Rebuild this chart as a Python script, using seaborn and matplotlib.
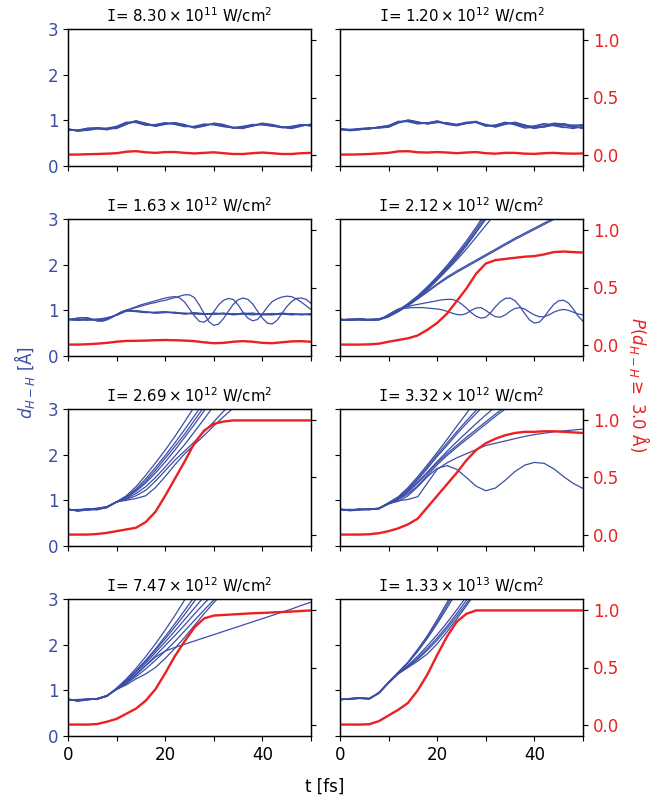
import numpy as np
import pandas as pd
import matplotlib
matplotlib.use("Agg")
import matplotlib.pyplot as plt
import seaborn as sns

# ---------------- data ----------------
T_COARSE = np.arange(0, 51, 2)      # 2 fs grid (26 points)
T_FINE = np.arange(0, 51, 1)        # 1 fs grid (51 points)

TITLES = [
    "$\\mathtt{I}$= $8.30\\times10^{11}$ W/cm$^2$",
    "$\\mathtt{I}$= $1.20\\times10^{12}$ W/cm$^2$",
    "$\\mathtt{I}$= $1.63\\times10^{12}$ W/cm$^2$",
    "$\\mathtt{I}$= $2.12\\times10^{12}$ W/cm$^2$",
    "$\\mathtt{I}$= $2.69\\times10^{12}$ W/cm$^2$",
    "$\\mathtt{I}$= $3.32\\times10^{12}$ W/cm$^2$",
    "$\\mathtt{I}$= $7.47\\times10^{12}$ W/cm$^2$",
    "$\\mathtt{I}$= $1.33\\times10^{13}$ W/cm$^2$",
]

# panel 1 (8.30e11)
P1_A = [0.80,0.77,0.80,0.83,0.81,0.84,0.93,0.98,0.92,0.88,0.93,0.94,0.89,0.85,0.89,0.92,0.89,0.84,0.84,0.88,0.92,0.90,0.85,0.84,0.89,0.90]
P1_B = [0.79,0.79,0.82,0.82,0.80,0.86,0.95,0.96,0.90,0.90,0.94,0.92,0.87,0.86,0.91,0.91,0.87,0.83,0.86,0.90,0.91,0.88,0.84,0.86,0.90,0.88]
P1_C = [0.81,0.76,0.79,0.84,0.82,0.83,0.92,0.97,0.93,0.89,0.92,0.93,0.90,0.84,0.88,0.93,0.90,0.85,0.83,0.87,0.93,0.91,0.86,0.83,0.88,0.91]
P1_D = [0.80,0.78,0.81,0.82,0.79,0.85,0.94,0.99,0.91,0.87,0.92,0.95,0.88,0.85,0.90,0.92,0.88,0.84,0.85,0.89,0.92,0.89,0.85,0.85,0.89,0.89]
P1_E = [0.78,0.78,0.83,0.84,0.81,0.82,0.91,0.99,0.94,0.87,0.91,0.95,0.91,0.83,0.87,0.94,0.91,0.83,0.82,0.89,0.94,0.90,0.84,0.82,0.87,0.92]
P1_F = [0.82,0.77,0.78,0.81,0.83,0.87,0.96,0.95,0.89,0.91,0.95,0.91,0.86,0.87,0.92,0.90,0.86,0.84,0.87,0.91,0.90,0.87,0.85,0.87,0.91,0.87]
RED_1 = [0.0,0.0,0.003,0.005,0.008,0.012,0.025,0.03,0.02,0.015,0.022,0.022,0.015,0.01,0.015,0.02,0.012,0.005,0.005,0.012,0.018,0.012,0.005,0.005,0.012,0.015]

# panel 2 (1.20e12)
P2_A = [0.81,0.78,0.80,0.82,0.84,0.86,0.95,1.00,0.95,0.93,0.97,0.93,0.89,0.95,0.98,0.89,0.87,0.94,0.93,0.87,0.83,0.88,0.93,0.90,0.84,0.84]
P2_B = [0.80,0.80,0.82,0.81,0.85,0.87,0.97,0.99,0.94,0.94,0.98,0.91,0.88,0.93,0.96,0.91,0.86,0.91,0.95,0.89,0.86,0.85,0.90,0.93,0.88,0.82]
P2_C = [0.82,0.77,0.79,0.83,0.83,0.85,0.94,1.00,0.96,0.92,0.96,0.94,0.90,0.94,0.97,0.88,0.89,0.95,0.90,0.83,0.85,0.92,0.91,0.85,0.82,0.88]
P2_D = [0.81,0.79,0.81,0.82,0.86,0.88,0.96,0.98,0.93,0.95,0.97,0.92,0.91,0.96,0.95,0.87,0.90,0.96,0.91,0.85,0.88,0.93,0.88,0.84,0.87,0.91]
P2_E = [0.79,0.78,0.82,0.84,0.84,0.85,0.95,1.01,0.97,0.92,0.95,0.95,0.91,0.93,0.96,0.90,0.88,0.93,0.94,0.88,0.82,0.86,0.94,0.92,0.86,0.83]
P2_F = [0.82,0.80,0.80,0.81,0.85,0.89,0.98,0.97,0.92,0.94,0.99,0.93,0.89,0.94,0.97,0.90,0.85,0.92,0.96,0.90,0.84,0.87,0.89,0.88,0.90,0.89]
RED_2 = [0.0,0.0,0.002,0.005,0.01,0.015,0.028,0.03,0.02,0.018,0.022,0.018,0.012,0.018,0.022,0.012,0.008,0.015,0.015,0.008,0.006,0.012,0.015,0.01,0.008,0.01]

# panel 3 (1.63e12)
P3_A = [0.80,0.79,0.81,0.79,0.82,0.90,0.99,0.98,0.96,0.95,0.96,0.95,0.93,0.93,0.92,0.93,0.93,0.92,0.93,0.92,0.91,0.92,0.93,0.91,0.91,0.92]
P3_B = [0.79,0.83,0.84,0.77,0.80,0.91,1.00,0.97,0.95,0.96,0.97,0.94,0.94,0.92,0.91,0.94,0.92,0.93,0.92,0.90,0.92,0.93,0.92,0.90,0.92,0.91]
P3_C = [0.81,0.80,0.78,0.80,0.84,0.89,0.98,0.99,0.97,0.94,0.95,0.96,0.92,0.94,0.93,0.92,0.94,0.91,0.94,0.93,0.90,0.91,0.94,0.92,0.90,0.93]
P3_D = [0.80,0.78,0.80,0.81,0.81,0.90,1.01,0.99,0.96,0.94,0.96,0.94,0.92,0.95,0.92,0.91,0.93,0.90,0.92,0.94,0.91,0.90,0.92,0.93,0.91,0.90]
P3_X = [0.80,0.79,0.79,0.80,0.81,0.79,0.77,0.76,0.79,0.84,
        0.90,0.96,1.00,1.04,1.08,1.12,1.15,1.18,1.21,1.24,1.27,1.29,1.30,1.27,1.18,1.03,0.88,0.76,0.74,0.82,
        0.97,1.12,1.22,1.26,1.24,1.12,0.96,0.83,0.77,0.80,0.92,1.07,1.19,1.25,1.29,1.31,1.30,1.25,1.18,1.10,1.02]
P3_Y = [0.80,0.81,0.83,0.84,0.83,0.80,0.78,0.77,0.80,0.85,
        0.91,0.97,1.00,1.03,1.06,1.09,1.12,1.15,1.17,1.20,1.22,1.25,1.28,1.31,1.34,1.34,1.28,1.12,0.93,0.75,
        0.67,0.70,0.82,0.98,1.13,1.23,1.27,1.24,1.14,0.98,0.83,0.72,0.70,0.78,0.93,1.08,1.19,1.26,1.27,1.24,1.15]
RED_3 = [0.0,0.0,0.003,0.008,0.015,0.025,0.032,0.033,0.035,0.038,0.04,0.038,0.035,0.03,0.02,0.012,0.015,0.025,0.03,0.025,0.015,0.012,0.02,0.028,0.03,0.024]

# panel 4 (2.12e12)
P4_A1 = [0.80,0.79,0.81,0.79,0.80,0.88,1.00,1.15,1.32,1.52,1.74,1.98,2.24,2.52,2.82,3.14]
P4_A2 = [0.79,0.80,0.80,0.78,0.81,0.87,0.99,1.13,1.29,1.48,1.69,1.92,2.17,2.44,2.72,3.02,3.30]
P4_A3 = [0.81,0.78,0.79,0.80,0.80,0.88,1.00,1.14,1.30,1.50,1.72,1.95,2.20,2.47,2.77,3.08]
P4_A4 = [0.80,0.80,0.82,0.79,0.79,0.86,0.98,1.12,1.27,1.45,1.66,1.88,2.10,2.34,2.60,2.86,3.12]
P4_A5 = [0.80,0.78,0.80,0.80,0.81,0.87,0.99,1.13,1.28,1.47,1.68,1.90,2.14,2.41,2.70,3.00,3.30]
P4_B1 = [0.80,0.79,0.80,0.79,0.80,0.87,0.98,1.11,1.26,1.42,1.58,1.73,1.86,1.98,2.10,2.22,2.34,2.46,2.58,2.69,2.80,2.91,3.02]
P4_B2 = [0.79,0.80,0.81,0.80,0.79,0.86,0.97,1.10,1.25,1.40,1.56,1.70,1.83,1.95,2.07,2.19,2.31,2.43,2.55,2.66,2.77,2.88,2.99,3.10]
P4_C1 = [0.80,0.79,0.79,0.80,0.81,0.80,0.79,0.79,0.80,0.84,
         0.90,0.97,1.03,1.06,1.08,1.11,1.13,1.15,1.17,1.19,1.21,1.23,1.24,1.24,1.21,1.14,1.05,0.95,0.87,0.83,
         0.85,0.95,1.08,1.19,1.26,1.27,1.21,1.09,0.93,0.79,0.72,0.74,0.85,1.00,1.13,1.21,1.22,1.16,1.03,0.87,0.76]
P4_C2 = [0.79,0.80,0.81,0.80,0.79,0.78,0.80,0.81,0.81,0.85,
         0.91,0.97,1.02,1.04,1.05,1.06,1.06,1.06,1.05,1.04,1.03,1.01,0.98,0.94,0.91,0.90,0.93,1.00,1.05,1.06,
         1.00,0.92,0.86,0.85,0.90,0.98,1.04,1.06,1.03,0.96,0.90,0.86,0.86,0.90,0.96,1.00,1.02,1.00,0.96,0.92,0.90]
RED_4 = [0.0,0.0,0.0,0.002,0.008,0.025,0.04,0.055,0.08,0.13,0.19,0.27,0.38,0.49,0.62,0.71,0.74,0.75,0.76,0.77,0.775,0.79,0.81,0.815,0.81,0.806]

# panel 5 (2.69e12)
P5_L1 = [0.80,0.77,0.80,0.83,0.86,0.97,1.10,1.30,1.55,1.82,2.10,2.40,2.72,3.05]
P5_L2 = [0.79,0.79,0.82,0.81,0.85,0.96,1.08,1.25,1.47,1.72,1.98,2.26,2.55,2.85,3.15]
P5_L3 = [0.81,0.76,0.79,0.82,0.86,0.97,1.06,1.20,1.38,1.60,1.84,2.10,2.38,2.66,2.96,3.25]
P5_L4 = [0.80,0.78,0.81,0.80,0.84,0.96,1.04,1.15,1.30,1.50,1.73,1.97,2.22,2.50,2.78,3.07]
P5_L5 = [0.79,0.80,0.80,0.79,0.85,0.97,1.00,1.04,1.10,1.28,1.52,1.78,2.02,2.22,2.42,2.63,2.83,3.02]
P5_L6 = [0.81,0.78,0.78,0.81,0.86,0.96,1.02,1.10,1.22,1.42,1.65,1.88,2.08,2.28,2.50,2.72,2.95,3.15]
P5_L7 = [0.80,0.79,0.80,0.82,0.84,0.97,1.06,1.22,1.42,1.66,1.92,2.18,2.45,2.75,3.05]
RED_5 = [0.0,0.0,0.0,0.005,0.015,0.03,0.045,0.06,0.11,0.20,0.34,0.49,0.64,0.80,0.91,0.97,0.99,1.0,1.0,1.0,1.0,1.0,1.0,1.0,1.0,1.0]

# panel 6 (3.32e12)
P6_F1 = [0.80,0.78,0.81,0.80,0.82,0.95,1.08,1.28,1.52,1.78,2.05,2.33,2.62,2.90,3.20]
P6_F2 = [0.79,0.80,0.80,0.79,0.83,0.94,1.05,1.22,1.45,1.70,1.96,2.20,2.45,2.68,2.90,3.12]
P6_F3 = [0.81,0.77,0.79,0.81,0.82,0.93,1.04,1.20,1.40,1.62,1.85,2.07,2.28,2.48,2.68,2.87,3.05]
P6_F4 = [0.80,0.79,0.81,0.80,0.81,0.93,1.03,1.18,1.38,1.60,1.82,2.02,2.20,2.38,2.55,2.72,2.89,3.05]
P6_F5 = [0.80,0.80,0.79,0.80,0.82,0.92,1.02,1.14,1.32,1.55,1.78,1.98,2.16,2.33,2.50,2.67,2.84,3.00,3.15]
P6_F6 = [0.79,0.78,0.80,0.81,0.83,0.94,1.06,1.25,1.48,1.74,2.00,2.25,2.50,2.74,2.97,3.20]
P6_D = [0.80,0.79,0.80,0.80,0.82,0.92,0.99,1.02,1.08,1.38,1.68,1.82,1.93,2.02,2.11,2.20,2.25,2.30,2.35,2.40,2.44,2.47,2.50,2.52,2.54,2.56]
P6_E = [0.81,0.79,0.80,0.81,0.82,0.93,0.98,1.10,1.30,1.52,1.70,1.76,1.68,1.50,1.31,1.21,1.27,1.44,1.63,1.77,1.83,1.81,1.69,1.52,1.37,1.26]
RED_6 = [0.0,0.0,0.0,0.003,0.012,0.03,0.055,0.09,0.14,0.24,0.34,0.44,0.54,0.65,0.74,0.80,0.84,0.87,0.89,0.90,0.90,0.905,0.905,0.90,0.895,0.89]

# panel 7 (7.47e12)
P7_H1 = [0.80,0.77,0.80,0.82,0.88,1.05,1.25,1.48,1.74,2.02,2.32,2.64,2.98,3.30]
P7_H2 = [0.79,0.79,0.81,0.81,0.87,1.04,1.22,1.43,1.66,1.91,2.18,2.46,2.75,3.05]
P7_H3 = [0.81,0.76,0.79,0.82,0.89,1.03,1.20,1.40,1.60,1.83,2.06,2.30,2.55,2.80,3.05]
P7_H4 = [0.80,0.78,0.80,0.81,0.88,1.03,1.18,1.36,1.55,1.76,1.98,2.20,2.43,2.67,2.90,3.12]
P7_H5 = [0.79,0.80,0.81,0.80,0.87,1.02,1.15,1.30,1.47,1.66,1.86,2.07,2.30,2.53,2.76,2.98,3.20]
P7_H6 = [0.81,0.78,0.79,0.82,0.88,1.02,1.12,1.25,1.36,1.50,1.70,1.92,2.16,2.42,2.68,2.92,3.15]
P7_H7 = [0.80,0.77,0.81,0.81,0.87,1.04,1.21,1.42,1.64,1.88,2.13,2.39,2.66,2.95,3.25]
P7_G = [0.80,0.79,0.80,0.81,0.88,1.02,1.16,1.34,1.54,1.73,1.86,1.94,2.01,2.08,2.15,2.22,2.29,2.36,2.43,2.50,2.57,2.64,2.71,2.78,2.86,2.93]
RED_7 = [0.0,0.0,0.0,0.005,0.025,0.05,0.095,0.14,0.21,0.31,0.45,0.60,0.73,0.85,0.93,0.955,0.96,0.965,0.97,0.975,0.978,0.982,0.986,0.99,0.995,1.0]

# panel 8 (1.33e13)
P8_S1 = [0.80,0.82,0.83,0.81,0.95,1.18,1.40,1.62,1.90,2.20,2.55,2.92,3.30]
P8_S2 = [0.80,0.81,0.84,0.82,0.94,1.17,1.38,1.60,1.85,2.14,2.46,2.80,3.15]
P8_S3 = [0.79,0.82,0.83,0.82,0.95,1.18,1.39,1.61,1.88,2.17,2.50,2.86,3.22]
P8_M1 = [0.80,0.81,0.83,0.81,0.94,1.17,1.38,1.55,1.75,1.98,2.22,2.48,2.76,3.05]
P8_M2 = [0.79,0.82,0.84,0.82,0.95,1.16,1.37,1.52,1.68,1.88,2.10,2.35,2.62,2.90,3.20]
P8_M3 = [0.80,0.80,0.82,0.81,0.93,1.16,1.36,1.50,1.64,1.80,2.02,2.28,2.56,2.85,3.15]
P8_M4 = [0.81,0.81,0.83,0.82,0.94,1.17,1.37,1.53,1.71,1.92,2.15,2.40,2.68,2.97,3.25]
RED_8 = [0.0,0.0,0.0,0.003,0.03,0.08,0.13,0.19,0.30,0.44,0.61,0.77,0.90,0.97,1.0,1.0,1.0,1.0,1.0,1.0,1.0,1.0,1.0,1.0,1.0,1.0]

BLUE_LINES = [
    [P1_A, P1_B, P1_C, P1_D, P1_E, P1_F],
    [P2_A, P2_B, P2_C, P2_D, P2_E, P2_F],
    [P3_A, P3_B, P3_C, P3_D, P3_X, P3_Y],
    [P4_A1, P4_A2, P4_A3, P4_A4, P4_A5, P4_B1, P4_B2, P4_C1, P4_C2],
    [P5_L1, P5_L2, P5_L3, P5_L4, P5_L5, P5_L6, P5_L7],
    [P6_F1, P6_F2, P6_F3, P6_F4, P6_F5, P6_F6, P6_D, P6_E],
    [P7_H1, P7_H2, P7_H3, P7_H4, P7_H5, P7_H6, P7_H7, P7_G],
    [P8_S1, P8_S2, P8_S3, P8_M1, P8_M2, P8_M3, P8_M4],
]
RED_LINES = [RED_1, RED_2, RED_3, RED_4, RED_5, RED_6, RED_7, RED_8]

# ---------------- style ----------------
BLUE = "#3b4ea6"
RED = "#ec2020"

sns.set_style("ticks")
plt.rcParams["font.family"] = ["DejaVu Sans"]
plt.rcParams["axes.edgecolor"] = "black"
plt.rcParams["xtick.color"] = "black"
plt.rcParams["ytick.color"] = "black"
plt.rcParams["text.color"] = "black"
plt.rcParams["axes.labelcolor"] = "black"
plt.rcParams["axes.titlecolor"] = "black"
plt.rcParams["axes.linewidth"] = 0.9


def long_frame(lines):
    rows = []
    for k, vals in enumerate(lines):
        grid = T_FINE if len(vals) == len(T_FINE) else T_COARSE
        for t, d in zip(grid, vals):
            rows.append((k, t, d))
    return pd.DataFrame(rows, columns=["traj", "t", "d"])


fig = plt.figure(figsize=(6.68, 8.02), dpi=100)
W, H = 668.0, 802.0
col_left = [68, 340]
row_top = [29, 219, 409, 599]
aw, ah = 243, 137

for i in range(8):
    r, c = divmod(i, 2)
    ax = fig.add_axes([col_left[c] / W, 1 - (row_top[r] + ah) / H, aw / W, ah / H])
    df = long_frame(BLUE_LINES[i])
    sns.lineplot(data=df, x="t", y="d", units="traj", estimator=None,
                 color=BLUE, lw=0.9, ax=ax, legend=False)
    ax2 = ax.twinx()
    sns.lineplot(x=T_COARSE, y=RED_LINES[i], color=RED, lw=1.7, ax=ax2)

    ax.set_xlim(0, 50)
    ax.set_ylim(0, 3)
    ax.set_yticks([0, 1, 2, 3])
    ax.set_xticks([0, 10, 20, 30, 40, 50])
    ax2.set_ylim(-0.1, 1.1)
    ax2.set_yticks([0.0, 0.5, 1.0])
    ax.set_xlabel("")
    ax.set_ylabel("")
    ax2.set_ylabel("")
    ax.set_title(TITLES[i], fontsize=10.8, pad=5, color="black")

    if r == 3:
        ax.set_xticklabels(["0", "", "20", "", "40", ""])
        ax.tick_params(axis="x", labelsize=12, labelcolor="black")
    else:
        ax.tick_params(axis="x", labelbottom=False)

    if c == 0:
        ax.tick_params(axis="y", labelcolor=BLUE, labelsize=12)
        ax2.tick_params(axis="y", labelright=False)
    else:
        ax.tick_params(axis="y", labelleft=False)
        ax2.set_yticklabels(["0.0", "0.5", "1.0"])
        ax2.tick_params(axis="y", labelcolor=RED, labelsize=12)
    for s in ax2.spines.values():
        s.set_color("black")

fig.text(0.037, 0.523, r"$d_{H-H}$ [Å]", rotation=90, color=BLUE,
         fontsize=12, ha="center", va="center")
fig.text(0.957, 0.521, r"$P(d_{H-H} \geq$ 3.0 Å)", rotation=270, color=RED,
         fontsize=12, ha="center", va="center")
fig.text(0.4865, 0.019, "t [fs]", fontsize=12, ha="center", va="center",
         color="black")

fig.savefig("out.png", dpi=100)
